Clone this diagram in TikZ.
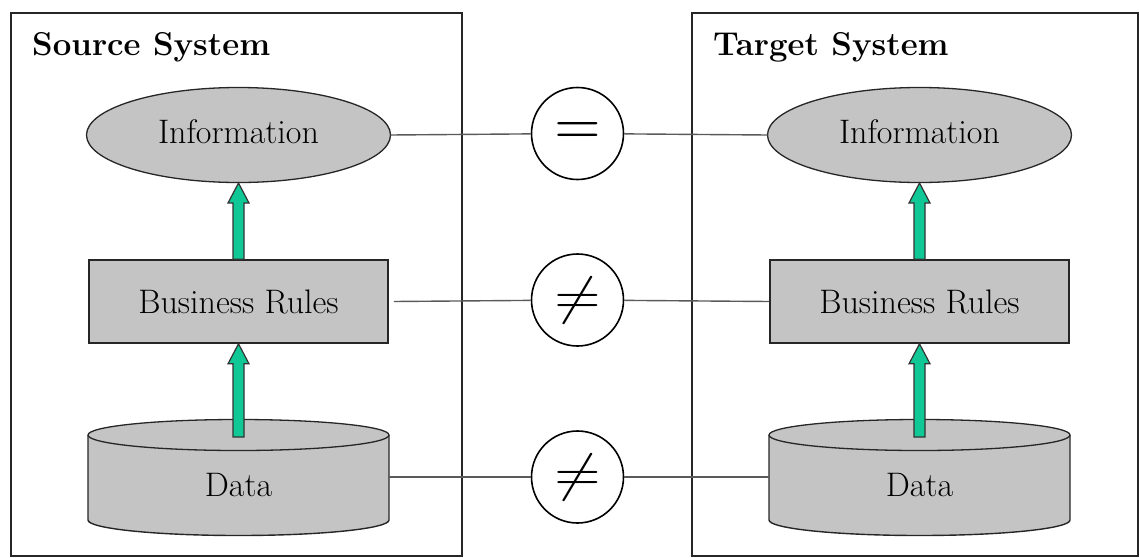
\documentclass[tikz,border=0pt]{standalone}
\usepackage{fontspec}
\usetikzlibrary{calc}
\definecolor{boxgray}{HTML}{C4C4C4}
\definecolor{flowgreen}{HTML}{10C896}
\definecolor{linkgray}{HTML}{5A5A5A}
\tikzset{
  frame/.style={draw=black!85, line width=2pt},
  title/.style={font=\fontsize{33}{36}\selectfont\bfseries, anchor=base west, inner sep=0pt},
  lbl/.style={font=\fontsize{34}{38}\selectfont, inner sep=0pt},
  infoshape/.style={draw=black!85, fill=boxgray, line width=1.3pt},
  rulebox/.style={draw=black!85, fill=boxgray, line width=1.6pt, minimum width=299pt, minimum height=83pt, inner sep=0pt},
  cmp/.style={circle, draw=black, line width=1.6pt, fill=white, minimum size=92pt, inner sep=0pt},
  link/.style={draw=linkgray, line width=1.4pt},
  fatarrow/.style={draw=black!80, fill=flowgreen, line width=1.2pt, line join=miter,
    to path={let \p1=(\tikztostart), \p2=(\tikztotarget) in
      ({\x1-5.5pt},{\y1}) -- ({\x1-5.5pt},{\y2-20pt}) -- ({\x1-10.5pt},{\y2-20pt}) --
      ({\x1},{\y2}) -- ({\x1+10.5pt},{\y2-20pt}) -- ({\x1+5.5pt},{\y2-20pt}) --
      ({\x1+5.5pt},{\y1}) -- cycle}},
}
\begin{document}
\begin{tikzpicture}[x=1pt,y=-1pt]
\useasboundingbox (0,0) rectangle (1139,557);

% system frames
\draw[frame] (11,13) rectangle (462,556);
\draw[frame] (692,13) rectangle (1138,556);
\node[title] (srctitle) at (32,55) {Source System};
\node[title] (tgttitle) at (713,55) {Target System};

% comparison symbols
\node[cmp] (c1) at (577.5,133.5) {\scalebox{6}{$=$}};
\node[cmp] (c2) at (577.5,300) {\scalebox{6}[5.2]{$\neq$}};
\node[cmp] (c3) at (577.5,477) {\scalebox{6}[5.2]{$\neq$}};

% one column of layers per system
\foreach \cx/\sd in {238.5/s, 919.5/t} {
  % information layer
  \draw[infoshape] (\cx,135) ellipse [x radius=152pt, y radius=47.5pt];
  \node[lbl] (info\sd) at (\cx,135) {\vphantom{Ig}Information};
  \coordinate (infoS\sd) at (\cx,183);
  \coordinate (infoW\sd) at ({\cx-152},135);
  \coordinate (infoE\sd) at ({\cx+152},135);
  % business rules layer
  \node[rulebox] (rules\sd) at (\cx,301.5) {};
  \node[lbl] at (rules\sd) {Business Rules};
  % data layer (cylinder)
  \fill[boxgray] ({\cx-150.5},435) -- ({\cx-150.5},520)
     arc[start angle=180, end angle=360, x radius=150.5pt, y radius=15.5pt]
     -- ({\cx+150.5},435) -- cycle;
  \draw[black!85, line width=1.4pt] ({\cx-150.5},435) -- ({\cx-150.5},520)
     arc[start angle=180, end angle=360, x radius=150.5pt, y radius=15.5pt]
     -- ({\cx+150.5},435);
  \draw[infoshape] (\cx,435) ellipse [x radius=150.5pt, y radius=15.5pt];
  \coordinate (dtop\sd) at (\cx,437);
  \coordinate (dW\sd) at ({\cx-150.5},477);
  \coordinate (dE\sd) at ({\cx+150.5},477);
  \node[lbl] (data\sd) at (\cx,485) {Data};
  % upward flow
  \draw[fatarrow] (dtop\sd) to (rules\sd.south);
  \draw[fatarrow] (rules\sd.north) to (infoS\sd);
}

% links between the systems
\draw[link] (infoEs) -- (c1);
\draw[link] (c1) -- (infoWt);
\draw[link] ([xshift=5pt]ruless.east) -- (c2);
\draw[link] (c2) -- (rulest.west);
\draw[link] (dEs) -- (c3);
\draw[link] (c3) -- (dWt);
\end{tikzpicture}
\end{document}
